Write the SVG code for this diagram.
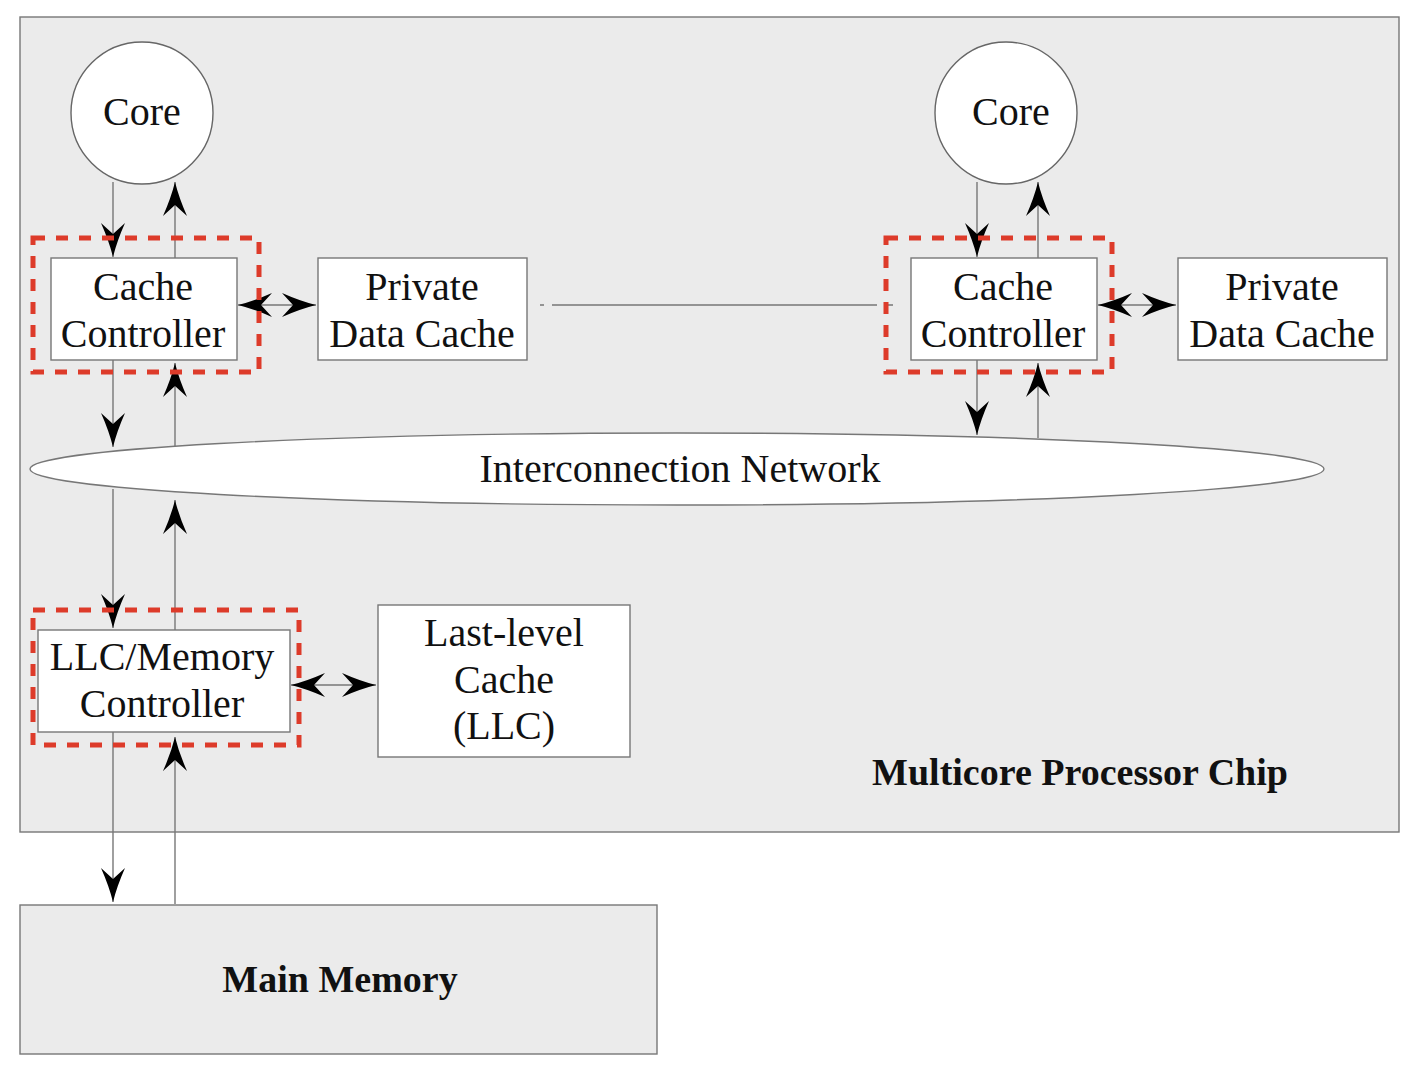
<svg xmlns="http://www.w3.org/2000/svg" width="1416" height="1068" viewBox="0 0 1416 1068">
<style>
.box{fill:#fff;stroke:#777;stroke-width:1.4}
.grey{fill:#ebebeb;stroke:#777;stroke-width:1.4}
.sel{fill:none;stroke:#dd3b2a;stroke-width:5;stroke-dasharray:12 11}
.t{font-family:"Liberation Serif",serif;font-size:40px;fill:#111;text-anchor:middle}
.b{font-family:"Liberation Serif",serif;font-size:38px;font-weight:bold;fill:#111;text-anchor:middle}
.c{fill:none;stroke:#777;stroke-width:1.4}
</style>
<defs>
<marker id="ah" viewBox="-36 -14 40 28" markerWidth="40" markerHeight="28" refX="0" refY="0" orient="auto-start-reverse" markerUnits="userSpaceOnUse">
<path d="M0,0 Q-16,-4 -34,-12 L-23,0 L-34,12 Q-16,4 0,0 Z" fill="#000"/>
</marker>
</defs>
<rect id="chip" class="grey" x="20" y="17" width="1379" height="815"/>
<rect id="mainmem" class="grey" x="20" y="905" width="637" height="149"/>
<g id="connectors">
<line class="c" x1="113" y1="182" x2="113" y2="257" marker-end="url(#ah)"/>
<line class="c" x1="175" y1="258" x2="175" y2="182" marker-end="url(#ah)"/>
<line class="c" x1="977" y1="182" x2="977" y2="257" marker-end="url(#ah)"/>
<line class="c" x1="1038" y1="258" x2="1038" y2="182" marker-end="url(#ah)"/>
<line class="c" x1="113" y1="360" x2="113" y2="447" marker-end="url(#ah)"/>
<line class="c" x1="175" y1="447" x2="175" y2="363" marker-end="url(#ah)"/>
<line class="c" x1="977" y1="360" x2="977" y2="435" marker-end="url(#ah)"/>
<line class="c" x1="1038" y1="438" x2="1038" y2="363" marker-end="url(#ah)"/>
<line class="c" x1="113" y1="489" x2="113" y2="628" marker-end="url(#ah)"/>
<line class="c" x1="175" y1="630" x2="175" y2="500" marker-end="url(#ah)"/>
<line class="c" x1="113" y1="732" x2="113" y2="902" marker-end="url(#ah)"/>
<line class="c" x1="175" y1="904" x2="175" y2="737" marker-end="url(#ah)"/>
<line class="c" x1="238" y1="305" x2="316" y2="305" marker-start="url(#ah)" marker-end="url(#ah)"/>
<line class="c" x1="1098" y1="305" x2="1176" y2="305" marker-start="url(#ah)" marker-end="url(#ah)"/>
<line class="c" x1="291" y1="685" x2="376" y2="685" marker-start="url(#ah)" marker-end="url(#ah)"/>
<path class="c" d="M540,305 h4 M552,305 H877 M885,305 H893"/>
</g>
<g id="core1"><circle cx="142" cy="113" r="71" fill="#fff" stroke="#666" stroke-width="1.4"/><text class="t" x="142" y="125">Core</text></g>
<g id="core2"><circle cx="1006" cy="113" r="71" fill="#fff" stroke="#666" stroke-width="1.4"/><text class="t" x="1011" y="125">Core</text></g>
<g id="cc1"><rect class="box" x="51" y="258" width="186" height="102"/><text class="t" x="143" y="300">Cache</text><text class="t" x="143" y="347">Controller</text><rect class="sel" x="33" y="238" width="226" height="134"/></g>
<g id="pdc1"><rect class="box" x="318" y="258" width="209" height="102"/><text class="t" x="422" y="300">Private</text><text class="t" x="422" y="347">Data Cache</text></g>
<g id="cc2"><rect class="box" x="911" y="258" width="186" height="102"/><text class="t" x="1003" y="300">Cache</text><text class="t" x="1003" y="347">Controller</text><rect class="sel" x="886" y="238" width="226" height="134"/></g>
<g id="pdc2"><rect class="box" x="1178" y="258" width="209" height="102"/><text class="t" x="1282" y="300">Private</text><text class="t" x="1282" y="347">Data Cache</text></g>
<g id="network"><ellipse cx="677" cy="469" rx="647" ry="36" fill="#fff" stroke="#777" stroke-width="1.4"/><text class="t" x="680" y="482">Interconnection Network</text></g>
<g id="llcmc"><rect class="box" x="38" y="630" width="252" height="102"/><text class="t" x="162" y="670">LLC/Memory</text><text class="t" x="162" y="717">Controller</text><rect class="sel" x="33" y="610" width="266" height="135"/></g>
<g id="llc"><rect class="box" x="378" y="605" width="252" height="152"/><text class="t" x="504" y="646">Last-level</text><text class="t" x="504" y="693">Cache</text><text class="t" x="504" y="739">(LLC)</text></g>
<g id="chiplabel"><text class="b" x="1080" y="785">Multicore Processor Chip</text></g>
<g id="mainlabel"><text class="b" x="340" y="992">Main Memory</text></g>
</svg>
